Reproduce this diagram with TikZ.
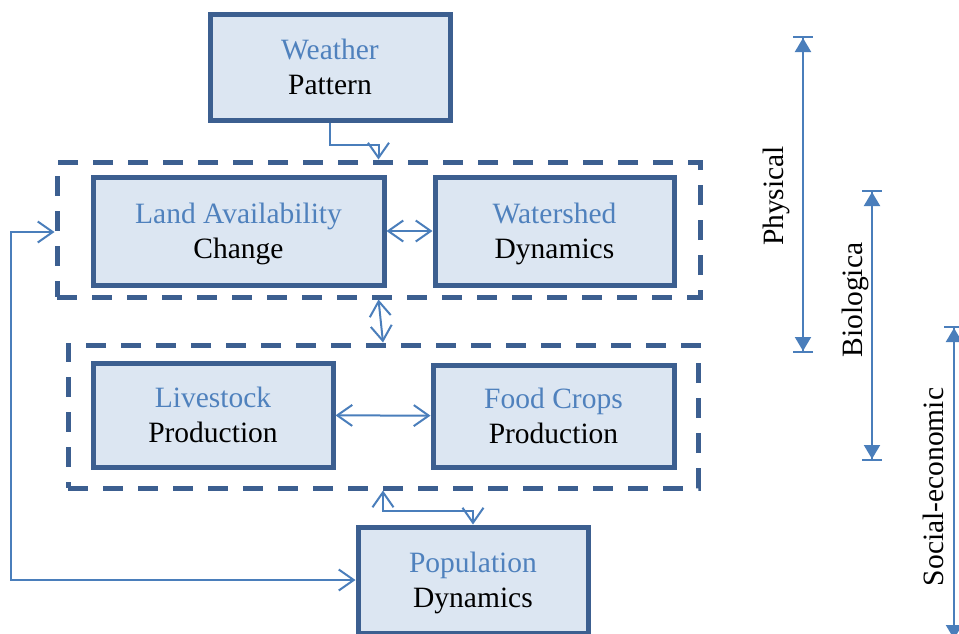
\documentclass[tikz,border=0pt]{standalone}
\usepackage{fontspec}
\setmainfont{Liberation Serif}
\usetikzlibrary{arrows.meta}
\definecolor{boxline}{HTML}{3C5F90}
\definecolor{boxfill}{HTML}{DCE6F2}
\definecolor{linkblue}{HTML}{4A7EBB}
\definecolor{headblue}{HTML}{4F81BD}
\tikzset{
  block/.style={draw=boxline, fill=boxfill, line width=5pt, align=center,
    inner sep=0pt, text depth=0pt, font=\fontsize{29.5}{35}\selectfont},
  group/.style={draw=boxline, line width=5pt, dash pattern=on 20pt off 15pt, inner sep=0pt},
  link/.style={linkblue, line width=2pt},
  barb/.tip={Straight Barb[length=15pt,width=21pt]},
  span/.style={linkblue, line width=2pt,
    {Bar[width=20pt]Triangle[length=14pt,width=16pt,sep=0pt]}-{Triangle[length=14pt,width=16pt,sep=0pt]Bar[width=20pt]}},
  spanlabel/.style={rotate=90, font=\fontsize{29.5}{35}\selectfont}
}
\newcommand{\head}[1]{{\color{headblue}#1}}
\begin{document}
\begin{tikzpicture}[x=1pt, y=-1pt]
  \useasboundingbox (0,0) rectangle (959,633);
  % blocks
  \node[block, minimum width=240, minimum height=106] (weather) at (330,67) {\head{Weather}\\Pattern};
  \node[group, minimum width=643, minimum height=135] (phys) at (378.5,229.5) {};
  \node[block, minimum width=291, minimum height=108] (land) at (238.5,231) {\head{Land Availability}\\Change};
  \node[block, minimum width=239, minimum height=108] (water) at (554.5,231) {\head{Watershed}\\Dynamics};
  \node[group, minimum width=630, minimum height=143] (prod) at (383,416.5) {};
  \node[block, minimum width=240, minimum height=104] (stock) at (213,415) {\head{Livestock}\\Production};
  \node[block, minimum width=241, minimum height=102] (crops) at (553.5,416) {\head{Food Crops}\\Production};
  \node[block, minimum width=230, minimum height=106] (people) at (473,580) {\head{Population}\\Dynamics};

  % connectors
  \draw[link, -barb] (weather.south) -- ++(0,22) -| (phys.north);
  \draw[link, barb-barb] (land) -- (water);
  \draw[link, barb-barb] (stock) -- (crops);
  \draw[link, barb-barb] (phys.south) -- (prod.north);
  \draw[link, barb-barb] (prod.south) -- ++(0,20) -| (people.north);
  \coordinate (loop) at (11,580);
  \draw[link, barb-barb] ([yshift=-2.5pt]phys.west) -| (loop) -- (people.west);

  % ranges on the right
  \coordinate (p1) at (803,36);  \coordinate (p2) at (803,353);
  \coordinate (b1) at (872,190); \coordinate (b2) at (872,461);
  \coordinate (s1) at (954,326); \coordinate (s2) at (954,641);
  \draw[span] (p1) -- (p2);
  \draw[span] (b1) -- (b2);
  \draw[span] (s1) -- (s2);
  \node[spanlabel] (physlabel) at (776,196) {Physical};
  \node[spanlabel] (biolabel) at (855,300) {Biologica};
  \node[spanlabel] (soclabel) at (933,487) {Social-economic};
\end{tikzpicture}
\end{document}
